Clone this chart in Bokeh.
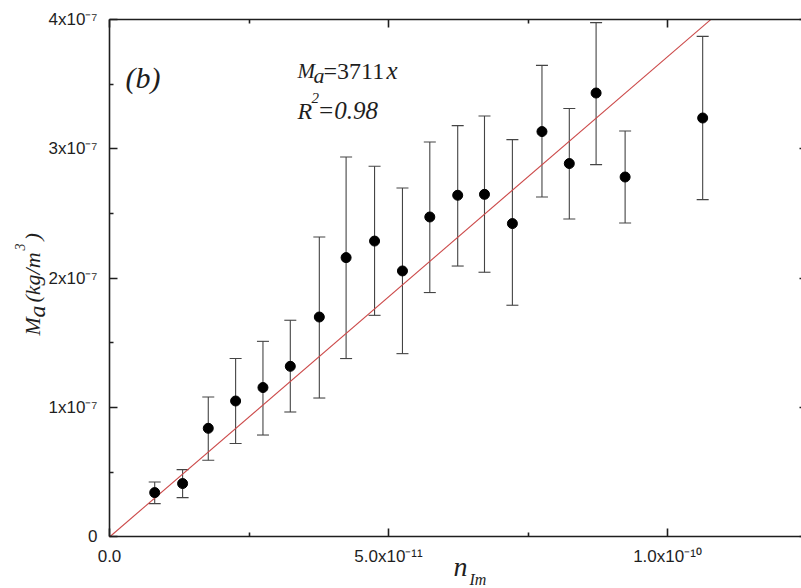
import math
from bokeh.plotting import figure
from bokeh.models import (ColumnDataSource, Whisker, TeeHead, LinearAxis,
                          FixedTicker, Label, Range1d)
from bokeh.embed import file_html
from bokeh.resources import INLINE

# ---- data ----
n_im = [8.1e-12, 13.1e-12, 17.7e-12, 22.6e-12, 27.5e-12, 32.4e-12, 37.6e-12,
        42.4e-12, 47.5e-12, 52.5e-12, 57.4e-12, 62.4e-12, 67.2e-12, 72.2e-12,
        77.5e-12, 82.4e-12, 87.2e-12, 92.4e-12, 106.3e-12]
m_a = [0.343e-7, 0.413e-7, 0.840e-7, 1.051e-7, 1.155e-7, 1.319e-7, 1.700e-7,
       2.159e-7, 2.287e-7, 2.056e-7, 2.473e-7, 2.641e-7, 2.648e-7, 2.422e-7,
       3.133e-7, 2.886e-7, 3.431e-7, 2.782e-7, 3.238e-7]
m_upper = [0.425e-7, 0.521e-7, 1.082e-7, 1.379e-7, 1.512e-7, 1.675e-7, 2.318e-7,
           2.937e-7, 2.865e-7, 2.697e-7, 3.053e-7, 3.179e-7, 3.253e-7, 3.071e-7,
           3.645e-7, 3.311e-7, 3.975e-7, 3.138e-7, 3.869e-7]
m_lower = [0.258e-7, 0.304e-7, 0.593e-7, 0.722e-7, 0.788e-7, 0.966e-7, 1.074e-7,
           1.379e-7, 1.713e-7, 1.417e-7, 1.889e-7, 2.094e-7, 2.046e-7, 1.791e-7,
           2.628e-7, 2.457e-7, 2.878e-7, 2.427e-7, 2.607e-7]

fit_slope = 3711

x_ticks = [0, 5e-11, 1e-10]
x_minor = [2.5e-11, 7.5e-11]
x_tick_labels = ["0.0", "5.0x10\u207b\u00b9\u00b9", "1.0x10\u207b\u00b9\u2070"]
y_ticks = [0, 1e-7, 2e-7, 3e-7, 4e-7]
y_minor = [0.5e-7, 1.5e-7, 2.5e-7, 3.5e-7]
y_tick_labels = ["0", "1x10\u207b\u2077", "2x10\u207b\u2077", "3x10\u207b\u2077", "4x10\u207b\u2077"]

# plotting box in data units
X_LO, X_HI = 0.0, 1.25e-10
Y_LO, Y_HI = 0.0, 4e-7

# ---- layout: frame covers the whole canvas, axes sit at fixed data positions ----
W, H = 801, 588
X_START, X_END = -1.9534e-11, 1.2401e-10
Y_START, Y_END = -0.398e-7, 4.146e-7

p = figure(width=W, height=H, x_range=Range1d(X_START, X_END),
           y_range=Range1d(Y_START, Y_END),
           output_backend="svg", toolbar_location=None,
           x_axis_type=None, y_axis_type=None, min_border=0)
p.grid.visible = False
p.outline_line_color = None
p.background_fill_color = "white"
p.border_fill_color = "white"

AX_COL = "#1e1e1e"


def make_axis(ticks, minor, labels, loc, bounds, show_labels, tick_in=8, minor_in=4, line=True):
    ax = LinearAxis(ticker=FixedTicker(ticks=ticks, minor_ticks=minor),
                    fixed_location=loc, bounds=bounds)
    ax.axis_line_color = AX_COL if line else None
    ax.axis_line_width = 1.6
    ax.major_tick_line_color = AX_COL
    ax.major_tick_line_width = 1.6
    ax.minor_tick_line_color = AX_COL if minor_in > 0 else None
    ax.minor_tick_line_width = 1.6
    ax.major_tick_in = tick_in
    ax.major_tick_out = 0
    ax.minor_tick_in = minor_in
    ax.minor_tick_out = 0
    if show_labels:
        ax.major_label_overrides = {t: s for t, s in zip(ticks, labels)}
        ax.major_label_text_font = "Liberation Sans"
        ax.major_label_text_font_size = "17px"
        ax.major_label_text_color = AX_COL
    else:
        ax.major_label_overrides = {t: "" for t in ticks}
        ax.major_label_text_font_size = "0px"
        ax.major_label_standoff = 0
    return ax


xb = make_axis(x_ticks, x_minor, x_tick_labels, Y_LO, (X_LO, X_HI), True)
xb.major_label_standoff = 10
yl = make_axis(y_ticks, y_minor, y_tick_labels, X_LO, (Y_LO, Y_HI), True)
yl.major_label_standoff = 12
xt = make_axis(x_ticks, x_minor, x_tick_labels, Y_HI, (X_LO, X_HI), False)
yr = make_axis(y_ticks, y_minor, y_tick_labels, X_HI, (Y_LO, Y_HI), False)

p.add_layout(xb, "below")
p.add_layout(yl, "left")
p.add_layout(xt, "above")
p.add_layout(yr, "right")

# ---- fit line (M_a = 3711 x), drawn up to the top of the box ----
fit_x = [0.0, Y_HI / fit_slope]
p.line(fit_x, [fit_slope * v for v in fit_x], line_color="#cc4a4a", line_width=1.1)

# ---- error bars & points ----
src = ColumnDataSource(dict(x=n_im, y=m_a, upper=m_upper, lower=m_lower))
wh = Whisker(source=src, base="x", upper="upper", lower="lower", dimension="height",
             line_color="#444444", line_width=1.1,
             upper_head=TeeHead(size=12, line_color="#444444", line_width=1.1),
             lower_head=TeeHead(size=12, line_color="#444444", line_width=1.1))
p.add_layout(wh)
p.scatter("x", "y", source=src, size=10, fill_color="black", line_color="black")

# ---- text annotations (page pixel positions) ----
SERIF = "Liberation Serif"


def add_text(px, py, text, size, style="italic", angle=0.0):
    p.add_layout(Label(x=px, y=H - py, x_units="screen", y_units="screen",
                       text=text, text_font=SERIF, text_font_style=style,
                       text_font_size=f"{size}px", text_color=AX_COL,
                       text_align="left", text_baseline="alphabetic", angle=angle))


add_text(125, 77, "(b)", 30)

add_text(297, 70, "M", 21)
add_text(313, 75, "a", 22)
add_text(323, 70, "=3711", 24, style="normal")
add_text(386, 70, "x", 25)

add_text(297, 110, "R", 24)
add_text(311, 97, "2", 15)
add_text(317, 110, "=0.98", 25)

# x-axis title
add_text(453, 566, "n", 28)
add_text(469, 579, "Im", 16)

# y-axis title (rotated)
rot = math.pi / 2
add_text(32, 335, "M", 22, angle=rot)
add_text(36, 317, "a", 24, angle=rot)
add_text(32, 302, "(kg/m", 22, angle=rot)
add_text(19, 250, "3", 14, angle=rot)
add_text(32, 240, ")", 22, angle=rot)

open("out.html", "w").write(file_html(p, INLINE))
